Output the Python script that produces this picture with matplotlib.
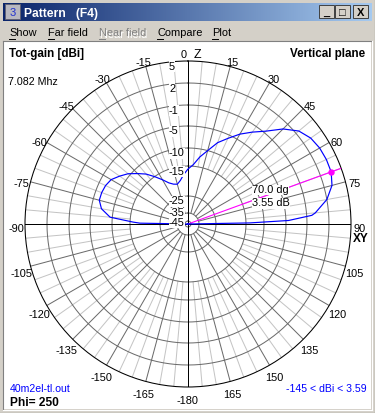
import numpy as np
import matplotlib.pyplot as plt
from matplotlib.patches import Rectangle
from matplotlib.lines import Line2D
from matplotlib.colors import LinearSegmentedColormap

# vertical plane pattern: angle from zenith (deg, + towards XY) and total gain (dBi)
theta_deg = [-90, -89, -88, -85, -80, -75, -70, -65, -60, -55, -50, -45, -40, -35,
             -30, -25, -20, -15, -10, -5, 0, 5, 10, 15, 20, 25, 30, 35, 40, 45,
             50, 55, 60, 65, 70, 75, 80, 85, 86, 88, 89, 90]
gain_dbi = [-145, -18.3, -16.0, -9.5, -7.3, -6.4, -6.4, -6.6, -7.1, -8.3, -9.5, -11.3, -13.0, -15.1,
            -17.3, -19.2, -20.2, -20.6, -19.6, -17.8, -16.0, -14.6, -12.2, -10.0, -7.6, -5.8, -3.9, -2.3, -0.7, 1.1,
            2.5, 3.2, 3.5, 3.59, 3.55, 3.1, 2.0, 0.2, -0.3, -4.5, -14.0, -145]

peak_angle = 70.0
peak_gain = 3.55
gain_min = -145
gain_max = 3.59

# dB rings of the plot and their radius on screen (pixels), used as the radial scale
ring_db = [-45, -35, -25, -15, -10, -5, -1, 2, 5]
ring_px = [3, 11, 28, 58, 76, 98, 119, 141, 163]

freq_label = "7.082 Mhz"
file_label = "40m2el-tl.out"
phi_label = "Phi= 250"
menu_items = ["Show", "Far field", "Near field", "Compare", "Plot"]
menu_x = [9, 48, 99, 157, 212]

scale_db = [gain_min] + ring_db
scale_r = [0] + ring_px


def fwd(v):
    return np.interp(v, scale_db, scale_r)


def inv(v):
    return np.interp(v, scale_r, scale_db)


W, H = 375, 413
FONT = 'Liberation Sans'


def px(x, y):
    return x / W, 1 - y / H


fig = plt.figure(figsize=(3.75, 4.13), dpi=100, facecolor='#d4d0c8')

# ---- window chrome
fig.add_artist(Rectangle(px(4, 409), 367 / W, 367 / H, transform=fig.transFigure,
                         facecolor='white', edgecolor='none', zorder=-2))
fig.add_artist(Line2D([3 / W, 3 / W], [1 - 41 / H, 1 - 409 / H], color='#808080', lw=0.8, zorder=-1))
fig.add_artist(Line2D([3 / W, 371 / W], [1 - 41 / H, 1 - 41 / H], color='#808080', lw=0.8, zorder=-1))
fig.add_artist(Line2D([371.5 / W, 371.5 / W], [1 - 41 / H, 1 - 409.5 / H], color='white', lw=0.8, zorder=-1))
fig.add_artist(Line2D([3 / W, 372 / W], [1 - 409.5 / H, 1 - 409.5 / H], color='white', lw=0.8, zorder=-1))
fig.add_artist(Line2D([374.5 / W, 374.5 / W], [0, 1], color='#404040', lw=0.8))
fig.add_artist(Line2D([0, 1], [0.5 / H, 0.5 / H], color='#404040', lw=0.8))

tb = fig.add_axes([3 / W, 1 - 21 / H, 369 / W, 18 / H])
tb.axis('off')
tb.imshow(np.linspace(0, 1, 256)[None, :], aspect='auto', extent=[0, 1, 0, 1],
          cmap=LinearSegmentedColormap.from_list('tb', ['#0a246a', '#a6caf0']))
fig.text(*px(24, 17), "Pattern   (F4)", color='white', fontsize=8.7, fontweight='bold',
         family=FONT, va='baseline')
fig.add_artist(Rectangle(px(5, 19), 15 / W, 15 / H, transform=fig.transFigure,
                         facecolor='#b8b8c0', edgecolor='#606070', lw=0.6))
fig.text(*px(12.5, 16), "3", color='#2030d0', fontsize=8, family=FONT, ha='center', va='baseline')
for bx, glyph in zip([319, 335, 353], ["_", "□", "X"]):
    fig.add_artist(Rectangle(px(bx, 18), 15 / W, 13 / H, transform=fig.transFigure,
                             facecolor='#d4d0c8', edgecolor='#404040', lw=0.7))
    fig.text(*px(bx + 7.5, 15.5), glyph, fontsize=8, fontweight='bold', family=FONT,
             ha='center', va='baseline', color='black')

for x, name in zip(menu_x, menu_items):
    grey = name == "Near field"
    if grey:
        fig.text(*px(x + 1, 37.5), name, fontsize=7.9, family=FONT, va='baseline', color='white')
    fig.text(*px(x, 36.5), name, fontsize=7.9, family=FONT, va='baseline',
             color='#808080' if grey else 'black')
    fig.add_artist(Line2D([x / W, (x + 6) / W], [1 - 38.5 / H, 1 - 38.5 / H],
                          color='#808080' if grey else 'black', lw=0.7))

# ---- polar diagram
cx, cy, R = 188, 224, ring_px[-1]
ax = fig.add_axes([(cx - R) / W, (H - cy - R) / H, 2 * R / W, 2 * R / H], projection='polar')
ax.set_theta_zero_location('N')
ax.set_theta_direction(-1)
ax.set_rscale('function', functions=(fwd, inv))
ax.set_rlim(gain_min, ring_db[-1])
ax.set_xticks([])
ax.set_yticks([])
ax.grid(False)
ax.set_facecolor('white')
ax.spines['polar'].set_color('black')
ax.spines['polar'].set_linewidth(0.75)

dark, light = '#6a6a6a', '#c4c4c4'
LW = 0.72
full = np.linspace(0, 2 * np.pi, 721)
for db in ring_db[:-1]:
    ax.plot(full, np.full_like(full, db), color=dark, lw=LW, zorder=2)
for a in range(0, 360, 5):
    t = np.radians(a)
    if a % 90 == 0:
        ax.plot([t, t], [gain_min, ring_db[-1]], color='black', lw=LW, zorder=3)
    elif a % 15 == 0:
        ax.plot([t, t], [ring_db[1], ring_db[-1]], color=dark, lw=LW, zorder=2)
    else:
        ax.plot([t, t], [ring_db[3], ring_db[-1]], color=light, lw=LW, zorder=1)

tp = np.radians(peak_angle)
ax.plot([tp, tp], [gain_min, ring_db[-1]], color='#ff00ff', lw=0.8, zorder=4)
ax.plot(np.radians(theta_deg), gain_dbi, color='#0000ff', lw=0.85, zorder=5)
ax.plot([tp], [peak_gain], 'o', color='#ff00ff', ms=3.6, zorder=6)

# angle labels round the circle
for a in range(-165, 181, 15):
    if a == 0:
        continue
    t = np.radians(a)
    x = cx + (R + 9) * np.sin(t)
    y = cy - (R + 9) * np.cos(t) + 8
    lab = "-180" if a == 180 else str(a)
    fig.text(*px(x, y), lab, fontsize=7.9, family=FONT, ha='center', va='baseline')
fig.text(*px(183.5, 58.3), "0", fontsize=7.9, family=FONT, ha='center', va='baseline')
fig.text(*px(197, 58.3), "Z", fontsize=9, family=FONT, ha='center', va='baseline')
fig.text(*px(361, 241.5), "XY", fontsize=8.5, fontweight='bold', family=FONT, ha='center', va='baseline')

# ring labels along the zenith axis
nudge = {-35: -5.5, -45: -4}
for db in ring_db:
    y = cy - fwd(db) + 8.5 + nudge.get(db, 0)
    fig.text(*px(169, y), str(db), fontsize=7.9, family=FONT, va='baseline', zorder=4,
             bbox=dict(facecolor='white', edgecolor='none', pad=0.1))

fig.text(*px(252, 193), f"{peak_angle:.1f} dg", fontsize=7.9, family=FONT, va='baseline', zorder=7,
         bbox=dict(facecolor='white', edgecolor='none', pad=0.3))
fig.text(*px(252, 206.5), f"{peak_gain:.2f} dB", fontsize=7.9, family=FONT, va='baseline', zorder=7,
         bbox=dict(facecolor='white', edgecolor='none', pad=0.3))

# corner texts
fig.text(*px(9, 57.5), "Tot-gain [dBi]", fontsize=8.4, fontweight='bold', family=FONT, va='baseline')
fig.text(*px(365, 57.5), "Vertical plane", fontsize=8.4, fontweight='bold', family=FONT,
         va='baseline', ha='right')
fig.text(*px(8, 85), freq_label, fontsize=7.7, family=FONT, va='baseline')
fig.text(*px(10, 391.7), file_label, fontsize=7.6, family=FONT, va='baseline', color='#0000ff')
fig.text(*px(10, 406), phi_label, fontsize=8.6, fontweight='bold', family=FONT, va='baseline')
fig.text(*px(367, 391.7), f"{gain_min} < dBi < {gain_max}", fontsize=7.6, family=FONT,
         va='baseline', ha='right', color='#0000ff')

fig.savefig('out.png', dpi=100, facecolor=fig.get_facecolor())
